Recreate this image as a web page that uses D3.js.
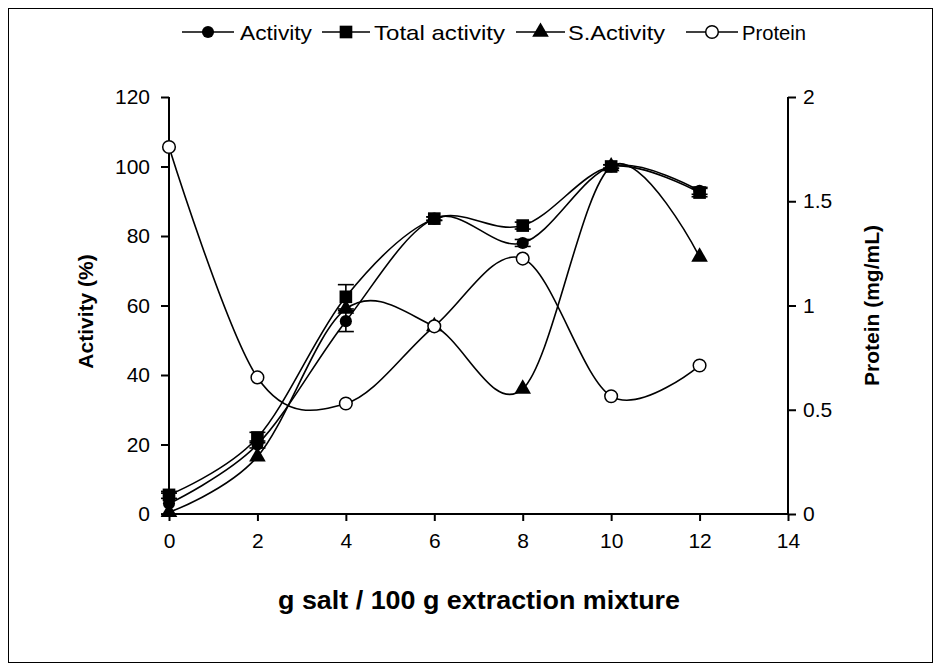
<!DOCTYPE html>
<html>
<head>
<meta charset="utf-8">
<script src="https://cdn.jsdelivr.net/npm/d3@7"></script>
<style>
  html, body { margin: 0; padding: 0; background: #fff; }
  svg { display: block; font-family: Arial, "Liberation Sans", sans-serif; }
</style>
</head>
<body>
<svg id="chart" width="941" height="671"></svg>
<script>
// Salt concentration (g salt / 100 g extraction mixture)
const saltLevels = [0, 2, 4, 6, 8, 10, 12];

// Relative activity series (%)
const activity      = [3, 20, 55.5, 85, 78, 100, 93];
const activityErr   = [3, 1, 3, 0.5, 1, 0.5, 1];
const totalActivity = [5.5, 22, 62.5, 85, 83, 100, 92.5];
const totalErr      = [1, 1.5, 3.5, 0.5, 1, 0.5, 1.2];
const sActivity     = [0.5, 16.5, 59, 54, 36, 100, 74];

// Protein concentration (mg/mL), right axis
const protein = [1.76, 0.655, 0.53, 0.9, 1.225, 0.565, 0.712];

const xTicks = [0, 2, 4, 6, 8, 10, 12, 14];
const yLeftTicks = [0, 20, 40, 60, 80, 100, 120];
const yRightTicks = [0, 0.5, 1, 1.5, 2];
const yRightLabels = ["0", "0.5", "1", "1.5", "2"];

const svg = d3.select("#chart");

// outer frame
svg.append("rect")
  .attr("x", 8.5).attr("y", 8.5)
  .attr("width", 924).attr("height", 654)
  .attr("fill", "none").attr("stroke", "#000").attr("stroke-width", 1);

const plotLeft = 169, plotRight = 788, plotTop = 97, plotBottom = 514;

const x = d3.scaleLinear().domain([0, 14]).range([plotLeft, plotRight]);
const yL = d3.scaleLinear().domain([0, 120]).range([plotBottom, plotTop]);
const yR = d3.scaleLinear().domain([0, 2]).range([plotBottom, plotTop]);

// axes
const tickFont = "21px";
const xAxis = svg.append("g")
  .attr("transform", `translate(0,${plotBottom})`)
  .call(d3.axisBottom(x).tickValues(xTicks).tickSize(7).tickPadding(12).tickFormat(d3.format("d")));
const yAxisL = svg.append("g")
  .attr("transform", `translate(${plotLeft},0)`)
  .call(d3.axisLeft(yL).tickValues(yLeftTicks).tickSize(8).tickPadding(11).tickFormat(d3.format("d")));
const yAxisR = svg.append("g")
  .attr("transform", `translate(${plotRight},0)`)
  .call(d3.axisRight(yR).tickValues(yRightTicks).tickSize(8).tickPadding(7)
    .tickFormat((d, i) => yRightLabels[i]));

[xAxis, yAxisL, yAxisR].forEach(g => {
  g.select(".domain").attr("stroke", "#000").attr("stroke-width", 2);
  g.selectAll(".tick line").attr("stroke", "#000").attr("stroke-width", 2);
  g.selectAll(".tick text").attr("fill", "#000").style("font-size", tickFont)
    .style("font-family", "Arial, 'Liberation Sans', sans-serif");
});
// plain axis lines without end caps
xAxis.select(".domain").attr("d", `M${plotLeft},0H${plotRight}`);
yAxisL.select(".domain").attr("d", `M0,${plotTop}V${plotBottom}`);
yAxisR.select(".domain").attr("d", `M0,${plotTop}V${plotBottom}`);

// axis titles
svg.append("text")
  .attr("x", 479).attr("y", 609)
  .attr("text-anchor", "middle")
  .style("font-size", "25px").style("font-weight", "bold")
  .attr("textLength", 402).attr("lengthAdjust", "spacingAndGlyphs")
  .text("g salt / 100 g extraction mixture");
svg.append("text")
  .attr("transform", `translate(93,${(plotTop + plotBottom) / 2 + 6}) rotate(-90)`)
  .attr("text-anchor", "middle")
  .style("font-size", "21px").style("font-weight", "bold")
  .text("Activity (%)");
svg.append("text")
  .attr("transform", `translate(879,${(plotTop + plotBottom) / 2}) rotate(-90)`)
  .attr("text-anchor", "middle")
  .style("font-size", "21px").style("font-weight", "bold")
  .text("Protein (mg/mL)");

// smooth line generators
const lineL = d3.line().x((d, i) => x(saltLevels[i])).y(d => yL(d)).curve(d3.curveCardinal.tension(0));
const lineR = d3.line().x((d, i) => x(saltLevels[i])).y(d => yR(d)).curve(d3.curveCardinal.tension(0));

const plot = svg.append("g");

function drawLine(values, gen) {
  plot.append("path").attr("d", gen(values))
    .attr("fill", "none").attr("stroke", "#000").attr("stroke-width", 1.6);
}
drawLine(sActivity, lineL);
drawLine(activity, lineL);
drawLine(totalActivity, lineL);
drawLine(protein, lineR);

// error bars
function drawErr(values, errs) {
  values.forEach((v, i) => {
    const cx = x(saltLevels[i]);
    const y1 = yL(v + errs[i]), y2 = yL(v - errs[i]);
    const g = plot.append("g").attr("stroke", "#000").attr("stroke-width", 1.6);
    g.append("line").attr("x1", cx).attr("x2", cx).attr("y1", y1).attr("y2", y2);
    g.append("line").attr("x1", cx - 8).attr("x2", cx + 8).attr("y1", y1).attr("y2", y1);
    g.append("line").attr("x1", cx - 8).attr("x2", cx + 8).attr("y1", y2).attr("y2", y2);
  });
}
drawErr(activity, activityErr);
drawErr(totalActivity, totalErr);

// markers
const sym = {
  circle: d3.symbol().type(d3.symbolCircle).size(115),
  square: d3.symbol().type(d3.symbolSquare).size(160),
  triangle: d3.symbol().type(d3.symbolTriangle).size(120),
  open: d3.symbol().type(d3.symbolCircle).size(125)
};

function drawMarkers(values, scale, kind) {
  plot.append("g").selectAll("path").data(values).join("path")
    .attr("transform", (d, i) => `translate(${x(saltLevels[i])},${scale(d)})`)
    .attr("d", sym[kind])
    .attr("fill", kind === "open" ? "#fff" : "#000")
    .attr("stroke", "#000").attr("stroke-width", kind === "open" ? 1.5 : 0);
}
drawMarkers(sActivity, yL, "triangle");
drawMarkers(activity, yL, "circle");
drawMarkers(totalActivity, yL, "square");
drawMarkers(protein, yR, "open");

// legend
const legendItems = [
  { label: "Activity", kind: "circle", x0: 182, x1: 234, tx: 240, w: 72 },
  { label: "Total activity", kind: "square", x0: 322, x1: 370, tx: 374, w: 131 },
  { label: "S.Activity", kind: "triangle", x0: 516, x1: 565, tx: 568, w: 97 },
  { label: "Protein", kind: "open", x0: 686, x1: 738, tx: 742, w: 64 }
];
const legendY = 32;
const lg = svg.append("g");
legendItems.forEach(it => {
  lg.append("line").attr("x1", it.x0).attr("x2", it.x1)
    .attr("y1", legendY).attr("y2", legendY)
    .attr("stroke", "#000").attr("stroke-width", 1.6);
  lg.append("path")
    .attr("transform", `translate(${(it.x0 + it.x1) / 2},${legendY})`)
    .attr("d", sym[it.kind])
    .attr("fill", it.kind === "open" ? "#fff" : "#000")
    .attr("stroke", "#000").attr("stroke-width", it.kind === "open" ? 1.5 : 0);
  lg.append("text").attr("x", it.tx).attr("y", legendY + 8)
    .style("font-size", "21px")
    .attr("textLength", it.w).attr("lengthAdjust", "spacingAndGlyphs")
    .text(it.label);
});
</script>
</body>
</html>
